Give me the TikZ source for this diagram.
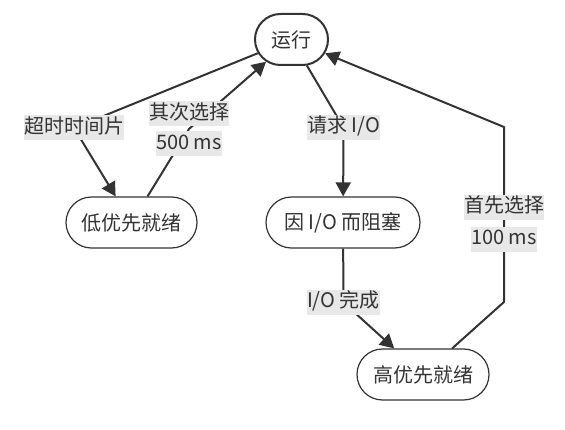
\documentclass[tikz,border=0pt]{standalone}
\usepackage{fontspec}
\setmainfont{Noto Sans CJK SC}
\usetikzlibrary{shapes.misc,arrows.meta}
\definecolor{ink}{HTML}{333333}
\definecolor{lab}{HTML}{E8E8E8}
\tikzset{
  state/.style={rounded rectangle, draw=ink, line width=1.2pt, minimum height=51pt,
    inner sep=0pt, text=ink, font=\fontsize{20}{24}\selectfont, fill=white},
  active/.style={line width=2pt},
  edge/.style={draw=ink, line width=2pt, line join=round, -{Triangle[length=14pt,width=15pt]}},
  lbl/.style={fill=lab, text=ink, inner xsep=0pt, inner ysep=2pt, text height=16pt,
    text depth=5pt, font=\fontsize{20}{24}\selectfont}
}
\begin{document}
\begin{tikzpicture}[x=1pt,y=-1pt]
\useasboundingbox (0,0) rectangle (565,430);
% states
\node[state,active,minimum width=73pt] (run) at (291.5,39.5) {运行};
\node[state,minimum width=131pt] (low) at (131.5,222.5) {低优先就绪};
\node[state,minimum width=154pt] (blk) at (343,222.5) {因 I/O 而阻塞};
\node[state,minimum width=132pt] (high) at (423,374.5) {高优先就绪};
% label centres and bends
\coordinate (c1) at (74,128);
\coordinate (c2) at (189,129);
\coordinate (c3) at (343.5,127.5);
\coordinate (c4) at (343.5,302.5);
\coordinate (c5) at (504,223.5);
\coordinate (b5a) at (504,302);
\coordinate (b5b) at (504,127);
% edges
\draw[edge] (run) -- (c1) -- (low);
\draw[edge] (low) -- (c2) -- (run);
\draw[edge] (run) -- (c3) -- (blk);
\draw[edge] (blk) -- (c4) -- (high);
\draw[edge] (high) -- (b5a) -- (c5) -- (b5b) -- (run);
% labels
\node[lbl] (l1) at (c1) {超时时间片};
\node[lbl] (l2a) at ([yshift=15pt]c2) {其次选择};
\node[lbl] (l2b) at ([yshift=-15pt]c2) {500 ms};
\node[lbl] (l3) at (c3) {请求 I/O};
\node[lbl] (l4) at (c4) {I/O 完成};
\node[lbl] (l5a) at ([yshift=16pt]c5) {首先选择};
\node[lbl] (l5b) at ([yshift=-16pt]c5) {100 ms};
\end{tikzpicture}
\end{document}
